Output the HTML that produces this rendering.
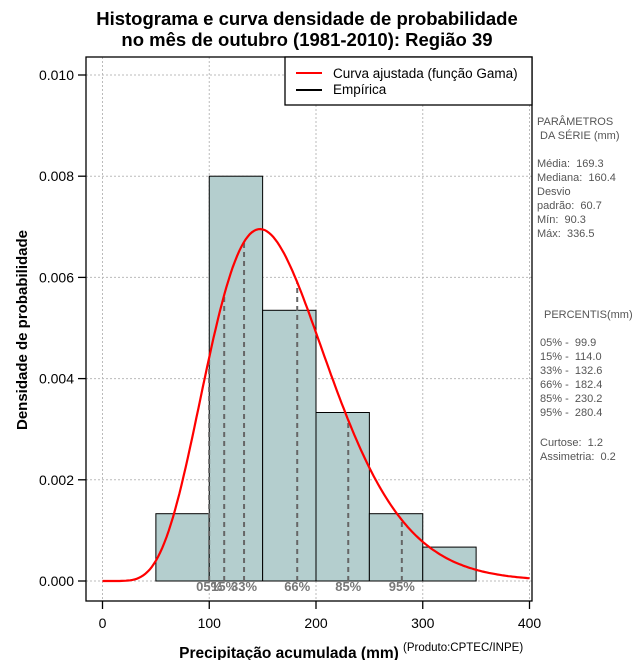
<!DOCTYPE html>
<html><head><meta charset="utf-8"><style>
body{margin:0;background:#fff;}
svg text{font-family:"Liberation Sans",sans-serif;white-space:pre;}
</style></head><body>
<svg id="chart" width="640" height="660" viewBox="0 0 640 660">
<text x="307" y="25" text-anchor="middle" font-size="18.5" font-weight="bold">Histograma e curva densidade de probabilidade</text>
<text x="307" y="46" text-anchor="middle" font-size="18.5" font-weight="bold">no mês de outubro (1981-2010): Região 39</text>
<g id="grid"></g>
<g id="bars"></g>
<g id="pct"></g>
<g id="curve"></g>
<rect x="86" y="57" width="446" height="544" fill="none" stroke="#000" stroke-width="1.3"/>
<g id="axes"></g>
<text x="27" y="330" transform="rotate(-90 27 330)" text-anchor="middle" font-size="15" font-weight="bold">Densidade de probabilidade</text>
<text x="289" y="658" text-anchor="middle" font-size="15.5" font-weight="bold">Precipitação acumulada (mm)</text>
<text x="403" y="651" font-size="11.5">(Produto:CPTEC/INPE)</text>
<g>
<rect x="285" y="57" width="247" height="48" fill="#fff" stroke="#000" stroke-width="1.3"/>
<line x1="296" y1="73" x2="322" y2="73" stroke="#f00" stroke-width="2"/>
<text x="333" y="78" font-size="13.5">Curva ajustada (função Gama)</text>
<line x1="296" y1="90" x2="322" y2="90" stroke="#000" stroke-width="2"/>
<text x="333" y="94" font-size="13.5">Empírica</text>
</g>
<g font-size="11" fill="#555">
<text x="537" y="125">PARÂMETROS</text>
<text x="537" y="139"> DA SÉRIE (mm)</text>
<text x="537" y="167">Média:  169.3</text>
<text x="537" y="181">Mediana:  160.4</text>
<text x="537" y="195">Desvio</text>
<text x="537" y="209">padrão:  60.7</text>
<text x="537" y="223">Mín:  90.3</text>
<text x="537" y="237">Máx:  336.5</text>
<text x="544" y="318">PERCENTIS(mm)</text>
<text x="540" y="346">05% -  99.9</text>
<text x="540" y="360">15% -  114.0</text>
<text x="540" y="374">33% -  132.6</text>
<text x="540" y="388">66% -  182.4</text>
<text x="540" y="402">85% -  230.2</text>
<text x="540" y="416">95% -  280.4</text>
<text x="540" y="446">Curtose:  1.2</text>
<text x="540" y="460">Assimetria:  0.2</text>
</g>
</svg>
<script>
const binStarts=[50,100,150,200,250,300];
const binDensity=[0.00133,0.008,0.00535,0.00333,0.00133,0.00067];
const binWidth=[50];
const gammaShape=[7.78];
const gammaScale=[21.76];
const pctLabels=["05%","15%","33%","66%","85%","95%"];
const pctValues=[99.9,114.0,132.6,182.4,230.2,280.4];
const xTicks=[0,100,200,300,400];
const yTicks=[0,0.002,0.004,0.006,0.008,0.010];
const yTickLabels=["0.000","0.002","0.004","0.006","0.008","0.010"];

const NS="http://www.w3.org/2000/svg";
const xs=v=>102.5+v*1.0675;
const ys=v=>581-v*50600;
function mk(tag,attrs,parent){const e=document.createElementNS(NS,tag);for(const k in attrs)e.setAttribute(k,attrs[k]);parent.appendChild(e);return e;}
function lgamma(z){const g=7,c=[0.99999999999980993,676.5203681218851,-1259.1392167224028,771.32342877765313,-176.61502916214059,12.507343278686905,-0.13857109526572012,9.9843695780195716e-6,1.5056327351493116e-7];z-=1;let x=c[0];for(let i=1;i<g+2;i++)x+=c[i]/(z+i);const t=z+g+0.5;return 0.5*Math.log(2*Math.PI)+(z+0.5)*Math.log(t)-t+Math.log(x);}
function dens(x){const k=gammaShape[0],th=gammaScale[0];if(x<=0)return 0;return Math.exp((k-1)*Math.log(x)-x/th-lgamma(k)-k*Math.log(th));}

const grid=document.getElementById('grid');
xTicks.forEach((t,i)=>{const l=mk('line',{x1:xs(t),x2:xs(t),y1:57,y2:601,stroke:'#bbb','stroke-dasharray':'2,2'},grid);

});
yTicks.forEach(t=>{const l=mk('line',{x1:86,x2:532,y1:ys(t),y2:ys(t),stroke:'#bbb','stroke-dasharray':'2,2'},grid);

});

const bars=document.getElementById('bars');
binStarts.forEach((b,i)=>{const r=mk('rect',{x:xs(b),y:ys(binDensity[i]),width:xs(b+binWidth[0])-xs(b),height:ys(0)-ys(binDensity[i]),fill:'#b4cece',stroke:'#000','stroke-width':1},bars);

});
const bl=mk('line',{x1:xs(binStarts[0]),x2:xs(binStarts[binStarts.length-1]+binWidth[0]),y1:ys(0),y2:ys(0),stroke:'#000','stroke-dasharray':'1,2'},bars);



const pct=document.getElementById('pct');
pctValues.forEach((p,i)=>{const l=mk('line',{x1:xs(p),x2:xs(p),y1:ys(0),y2:ys(dens(p)),stroke:'#666','stroke-width':2,'stroke-dasharray':'5,4'},pct);


const t=mk('text',{x:xs(p),y:591,'text-anchor':'middle','font-size':13,'font-weight':'bold',fill:'#777'},pct);t.textContent=pctLabels[i];

});

let d='';for(let v=0;v<=400;v+=2){d+=(v?'L':'M')+xs(v).toFixed(1)+','+ys(dens(v)).toFixed(1);}
const c=mk('path',{d:d,fill:'none',stroke:'#f00','stroke-width':2.2},document.getElementById('curve'));



const ax=document.getElementById('axes');
xTicks.forEach(t=>{mk('line',{x1:xs(t),x2:xs(t),y1:601,y2:609,stroke:'#000','stroke-width':1.3},ax);
const tx=mk('text',{x:xs(t),y:628,'text-anchor':'middle','font-size':14},ax);tx.textContent=t;

});
yTicks.forEach((t,i)=>{mk('line',{x1:78,x2:86,y1:ys(t),y2:ys(t),stroke:'#000','stroke-width':1.3},ax);
const tx=mk('text',{x:74,y:ys(t)+5,'text-anchor':'end','font-size':14},ax);tx.textContent=yTickLabels[i];

});
</script>
</body></html>
